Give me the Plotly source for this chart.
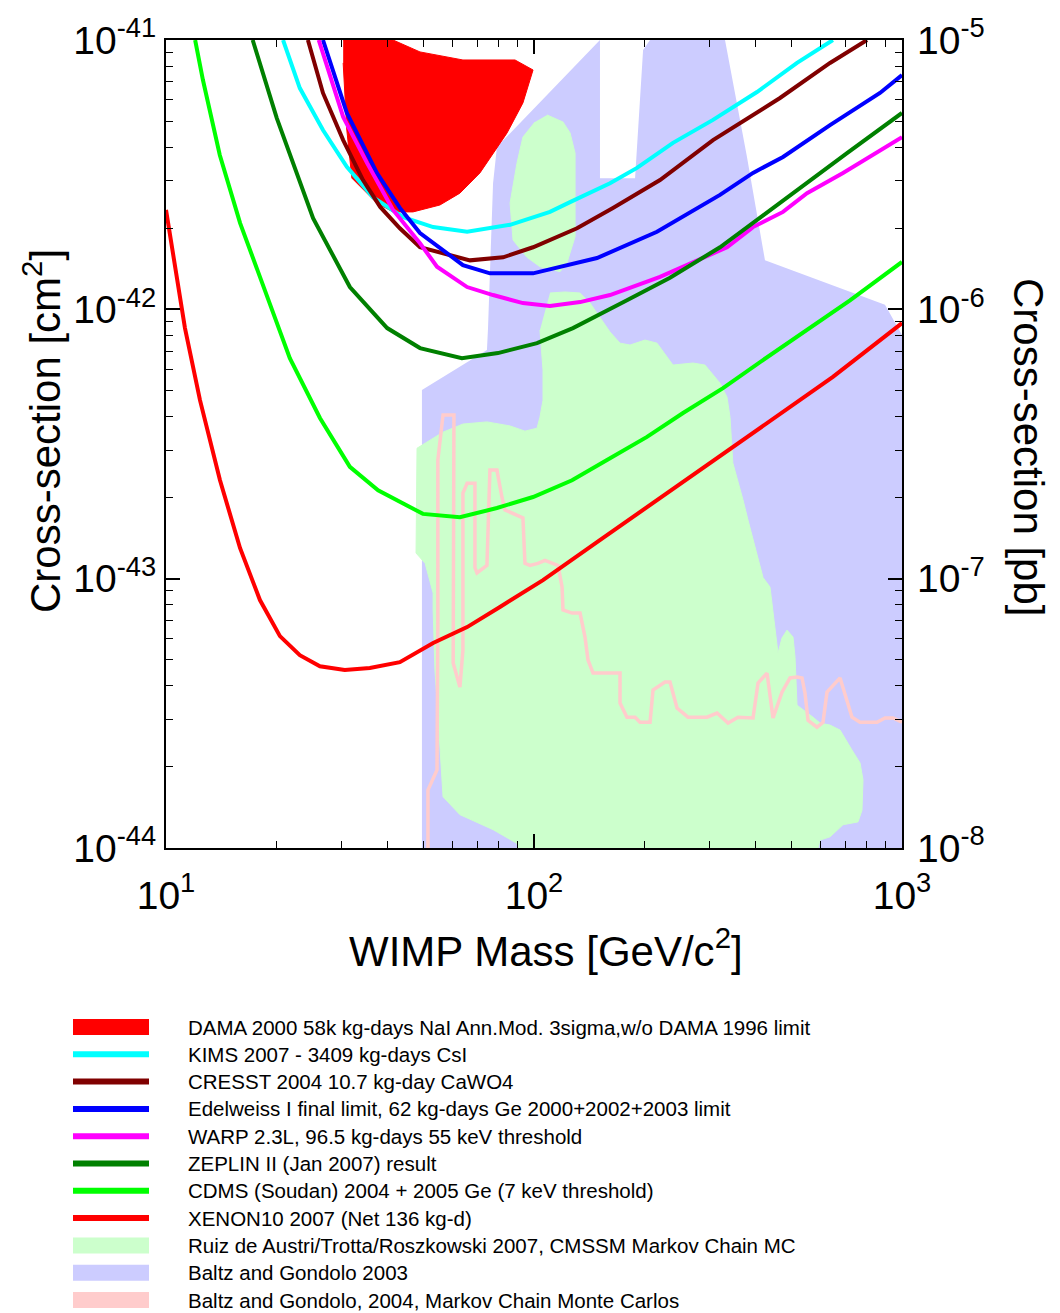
import plotly.graph_objects as go

# ---------------- data (WIMP mass in GeV/c^2, cross-section in cm^2) ----------------
xenon_mass = [10, 11.26, 12.37, 14.02, 15.89, 18.0, 20.4, 23.1, 26.2, 30.6, 35.8, 43.2, 53.2, 65.8,
              80.8, 105.8, 151, 347, 649, 1000]
xenon_sigma = [2.34e-42, 8.52e-43, 4.60e-43, 2.32e-43, 1.30e-43, 8.33e-44, 6.12e-44, 5.20e-44, 4.73e-44,
               4.58e-44, 4.66e-44, 4.90e-44, 5.77e-44, 6.61e-44, 7.85e-44, 9.88e-44, 1.39e-43, 3.08e-43,
               5.61e-43, 8.89e-43]

cdms_mass = [12.0, 12.6, 14.0, 15.9, 18.0, 20.0, 21.7, 26.2, 31.6, 37.7, 44.6, 49.9, 62.9, 79.3, 99.4,
             126.9, 157.9, 202.8, 254.1, 326.3, 419.1, 528.3, 722.2, 1000]
cdms_sigma = [1e-41, 7.10e-42, 3.74e-42, 2.09e-42, 1.32e-42, 8.89e-43, 6.59e-43, 3.95e-43, 2.60e-43,
              2.13e-43, 1.88e-43, 1.74e-43, 1.69e-43, 1.83e-43, 2.01e-43, 2.32e-43, 2.76e-43, 3.36e-43,
              4.12e-43, 5.10e-43, 6.48e-43, 8.03e-43, 1.08e-42, 1.50e-42]

zeplin_mass = [17.2, 20.0, 25.1, 31.6, 39.9, 49.0, 63.7, 79.8, 101.9, 127.6, 178.9, 234.2, 320.2, 419.1,
               518.5, 708.9, 1000]
zeplin_sigma = [1e-41, 5.13e-42, 2.18e-42, 1.21e-42, 8.52e-43, 7.18e-43, 6.59e-43, 6.88e-43, 7.49e-43,
                8.52e-43, 1.08e-42, 1.31e-42, 1.70e-42, 2.24e-42, 2.77e-42, 3.80e-42, 5.36e-42]

kims_mass = [20.8, 23.1, 26.7, 31.0, 36.5, 44.1, 53.2, 65.8, 86.1, 110.5, 125.3, 160.9, 190.5, 238.6,
             306.5, 403.6, 518.5, 649]
kims_sigma = [1e-41, 6.63e-42, 4.63e-42, 3.38e-42, 2.61e-42, 2.20e-42, 2.02e-42, 1.94e-42, 2.06e-42,
              2.30e-42, 2.50e-42, 2.94e-42, 3.35e-42, 4.15e-42, 5.05e-42, 6.41e-42, 8.22e-42, 1e-41]

cresst_mass = [24.3, 26.7, 30.3, 34.3, 38.2, 43.2, 49.0, 67.0, 82.4, 99.4, 130.9, 163.9, 220.0, 306.5,
               466.1, 637.4, 803.4]
cresst_sigma = [1e-41, 6.36e-42, 4.25e-42, 3.02e-42, 2.40e-42, 2.00e-42, 1.70e-42, 1.52e-42, 1.56e-42,
                1.70e-42, 2.00e-42, 2.38e-42, 3.02e-42, 4.25e-42, 6.09e-42, 8.22e-42, 1e-41]

edelweiss_mass = [26.7, 31.0, 37.4, 43.2, 49.0, 64.1, 75.9, 99.4, 148.3, 215.9, 320.2, 393.7, 475.0,
                  637.4, 871.3, 1000]
edelweiss_sigma = [1e-41, 5.36e-42, 3.21e-42, 2.38e-42, 1.92e-42, 1.46e-42, 1.36e-42, 1.36e-42, 1.55e-42,
                   1.94e-42, 2.66e-42, 3.21e-42, 3.68e-42, 4.83e-42, 6.36e-42, 7.41e-42]

warp_mass = [26.0, 30.3, 35.2, 41.4, 49.0, 54.5, 65.8, 77.4, 93.3, 110.5, 133.4, 160.9, 220.0, 334.6,
             393.7, 475.0, 552.0, 691.4, 1000]
warp_sigma = [1e-41, 5.18e-42, 3.49e-42, 2.34e-42, 1.76e-42, 1.44e-42, 1.21e-42, 1.13e-42, 1.055e-42,
              1.03e-42, 1.064e-42, 1.13e-42, 1.32e-42, 1.70e-42, 2.02e-42, 2.30e-42, 2.70e-42, 3.21e-42,
              4.36e-42]

dama_mass = [30.3, 41.4, 49.0, 64.1, 88.8, 99.4, 93.3, 84.5, 71.3, 62.9, 55.5, 46.9, 41.4, 37.4, 32.0,
             31.0, 30.3]
dama_sigma = [1e-41, 1e-41, 9.03e-42, 8.43e-42, 8.43e-42, 7.74e-42, 5.84e-42, 4.52e-42, 3.21e-42,
              2.70e-42, 2.44e-42, 2.30e-42, 2.30e-42, 2.48e-42, 3.07e-42, 4.63e-42, 8.22e-42]

baltz03_mass = [49.6, 49.6, 74.5, 75.0, 77.4, 79.3, 151.1, 151.1, 188.2, 197.9, 206.7, 330.4, 379.1,
                424.3, 899, 969, 1000, 1000]
baltz03_sigma = [1e-44, 5.02e-43, 7.06e-43, 8.52e-43, 2.94e-42, 4.01e-42, 1e-41, 3.07e-42, 3.07e-42,
                 9.18e-42, 1e-41, 1e-41, 3.68e-42, 1.52e-42, 1.04e-42, 8.74e-43, 8.03e-43, 1e-44]

ruiz_upper_mass = [108.5, 119.9, 125.3, 129.3, 129.3, 122.9, 117.7, 103.8, 95.7, 87.7, 86.1, 89.9, 93.3,
                   100.6]
ruiz_upper_sigma = [5.27e-42, 4.96e-42, 4.52e-42, 3.80e-42, 1.86e-42, 1.49e-42, 1.38e-42, 1.44e-42,
                    1.56e-42, 1.81e-42, 2.48e-42, 3.49e-42, 4.36e-42, 4.96e-42]

ruiz_lower_mass = [110.5, 121.4, 133.4, 142.0, 160.9, 171.3, 182.4, 200.3, 215.9, 238.6, 270.4, 291.5,
                   320.2, 334.6, 340.9, 347.0, 369.8, 381.5, 419.1, 437.8, 460.3, 471.9, 487.1, 505.7,
                   512.1, 518.5, 573.1, 598.6, 637.4, 678.7, 731.3, 769.0, 783.4, 778.5, 759.2, 691.4,
                   637.4, 598.6, 591.1, 90.5, 89.9, 77.4, 62.9, 56.6, 54.8, 53.8, 53.2, 53.2, 50.6, 47.8,
                   48.1, 56.6, 64.1, 74.5, 86.1, 94.5, 101.9, 103.8, 105.8, 105.8, 103.8]
ruiz_lower_sigma = [1.15e-42, 1.16e-42, 1.15e-42, 1.055e-42, 8.24e-43, 7.49e-43, 7.37e-43, 7.69e-43,
                    7.49e-43, 6.21e-43, 6.32e-43, 6.21e-43, 5.32e-43, 4.72e-43, 3.98e-43, 2.69e-43,
                    1.96e-43, 1.65e-43, 1.01e-43, 9.31e-44, 5.29e-44, 6.02e-44, 6.44e-44, 6.07e-44,
                    5.11e-44, 3.39e-44, 3.06e-44, 2.91e-44, 2.86e-44, 2.74e-44, 2.31e-44, 2.07e-44,
                    1.79e-44, 1.38e-44, 1.25e-44, 1.22e-44, 1.10e-44, 1.07e-44, 1e-44, 1e-44, 1.04e-44,
                    1.17e-44, 1.33e-44, 1.55e-44, 3.17e-44, 4.58e-44, 7.65e-44, 8.84e-44, 1.14e-43,
                    1.245e-43, 3.05e-43, 3.50e-43, 3.75e-43, 3.82e-43, 3.69e-43, 3.53e-43, 3.62e-43,
                    3.98e-43, 4.60e-43, 5.95e-43, 8.38e-43]

baltz04_mass = [51.5, 51.5, 54.5, 54.8, 54.8, 56.6, 60.6, 60.3, 62.9, 64.1, 64.1, 65.8, 69.1, 69.1, 70.0,
                74.5, 75.9, 79.3, 81.8, 83.4, 93.3, 94.5, 97.5, 102.5, 107.1, 116.2, 119.2, 119.9, 126.9,
                133.4, 137.6, 140.2, 144.7, 171.3, 171.3, 178.9, 188.2, 194.1, 206.7, 210.6, 227.0, 234.2,
                244.7, 262.1, 295.2, 314.3, 336.7, 358.4, 393.7, 406.2, 429.8, 446.2, 471.9, 496.3, 518.5,
                535.0, 545.0, 555.5, 587.5, 610.0, 625.5, 678.7, 731.3, 769.0, 855.2, 899.0, 945.2, 1000]
baltz04_sigma = [1e-44, 1.64e-44, 1.95e-44, 7.02e-44, 2.76e-43, 4.05e-43, 4.05e-43, 4.86e-44, 3.96e-44,
                 5.43e-44, 2.08e-43, 2.26e-43, 2.26e-43, 1.10e-43, 1.05e-43, 1.12e-43, 2.53e-43, 2.53e-43,
                 2.01e-43, 1.80e-43, 1.68e-43, 1.14e-43, 1.12e-43, 1.14e-43, 1.17e-43, 1.12e-43, 9.31e-44,
                 7.65e-44, 7.45e-44, 7.45e-44, 6.07e-44, 4.99e-44, 4.46e-44, 4.46e-44, 3.45e-44, 3.06e-44,
                 3.06e-44, 2.93e-44, 2.93e-44, 3.86e-44, 4.13e-44, 4.13e-44, 3.31e-44, 3.06e-44, 3.06e-44,
                 3.17e-44, 2.91e-44, 3.06e-44, 3.04e-44, 4.10e-44, 4.46e-44, 3.04e-44, 3.79e-44, 4.28e-44,
                 4.31e-44, 4.28e-44, 3.76e-44, 2.98e-44, 2.81e-44, 2.93e-44, 3.79e-44, 4.28e-44, 3.06e-44,
                 2.93e-44, 2.93e-44, 3.04e-44, 3.04e-44, 2.93e-44]

x_tick_vals = [10, 100, 1000]
x_tick_text = ["10<sup>1</sup>", "10<sup>2</sup>", "10<sup>3</sup>"]
y_tick_vals = [1e-44, 1e-43, 1e-42, 1e-41]
y_tick_text = ["10<sup>-44</sup>", "10<sup>-43</sup>", "10<sup>-42</sup>", "10<sup>-41</sup>"]
y2_tick_vals = [1e-8, 1e-7, 1e-6, 1e-5]
y2_tick_text = ["10<sup>-8</sup>", "10<sup>-7</sup>", "10<sup>-6</sup>", "10<sup>-5</sup>"]

legend_labels = [
    "DAMA 2000 58k kg-days NaI Ann.Mod. 3sigma,w/o DAMA 1996 limit",
    "KIMS 2007 - 3409 kg-days CsI",
    "CRESST 2004 10.7 kg-day CaWO4",
    "Edelweiss I final limit, 62 kg-days Ge 2000+2002+2003 limit",
    "WARP 2.3L, 96.5 kg-days 55 keV threshold",
    "ZEPLIN II (Jan 2007) result",
    "CDMS (Soudan) 2004 + 2005 Ge (7 keV threshold)",
    "XENON10 2007 (Net 136 kg-d)",
    "Ruiz de Austri/Trotta/Roszkowski 2007, CMSSM Markov Chain MC",
    "Baltz and Gondolo 2003",
    "Baltz and Gondolo, 2004, Markov Chain Monte Carlos",
]
legend_colors = ["#ff0000", "#00ffff", "#800000", "#0000ff", "#ff00ff", "#008000", "#00ff00",
                 "#ff0000", "#ccffcc", "#ccccff", "#ffcccc"]
legend_kinds = ["fill", "line", "line", "line", "line", "line", "line", "line", "fill", "fill", "fill"]

# ---------------- figure ----------------
FONT = "Liberation Sans, Arial, Helvetica, sans-serif"
W, H = 1060, 1313
L, R, T, B = 166, 158, 40, 465
PW, PH = W - L - R, H - T - B


def px_x(X):
    return (X - L) / PW


def px_y(Y):
    return (H - B - Y) / PH


fig = go.Figure()

fig.add_trace(go.Scatter(x=baltz03_mass, y=baltz03_sigma, mode="lines", fill="toself",
                         fillcolor="#ccccff", line=dict(width=0, color="#ccccff"), hoverinfo="skip"))
fig.add_trace(go.Scatter(x=ruiz_upper_mass, y=ruiz_upper_sigma, mode="lines", fill="toself",
                         fillcolor="#ccffcc", line=dict(width=1, color="#ccffcc"), hoverinfo="skip"))
fig.add_trace(go.Scatter(x=ruiz_lower_mass, y=ruiz_lower_sigma, mode="lines", fill="toself",
                         fillcolor="#ccffcc", line=dict(width=1, color="#ccffcc"), hoverinfo="skip"))
fig.add_trace(go.Scatter(x=baltz04_mass, y=baltz04_sigma, mode="lines",
                         line=dict(width=3.5, color="#ffcccc"), hoverinfo="skip"))
fig.add_trace(go.Scatter(x=dama_mass, y=dama_sigma, mode="lines", fill="toself",
                         fillcolor="#ff0000", line=dict(width=1, color="#ff0000"), hoverinfo="skip"))

curves = [
    (kims_mass, kims_sigma, "#00ffff"),
    (cresst_mass, cresst_sigma, "#800000"),
    (edelweiss_mass, edelweiss_sigma, "#0000ff"),
    (warp_mass, warp_sigma, "#ff00ff"),
    (zeplin_mass, zeplin_sigma, "#008000"),
    (cdms_mass, cdms_sigma, "#00ff00"),
    (xenon_mass, xenon_sigma, "#ff0000"),
]
for mx, sy, col in curves:
    fig.add_trace(go.Scatter(x=mx, y=sy, mode="lines", line=dict(width=4, color=col),
                             hoverinfo="skip"))

# empty trace so that the secondary (pb) axis is drawn
fig.add_trace(go.Scatter(x=[], y=[], yaxis="y2", mode="lines", hoverinfo="skip"))

fig.update_layout(
    width=W, height=H, margin=dict(l=L, r=R, t=T, b=B, pad=0),
    paper_bgcolor="white", plot_bgcolor="white", showlegend=False,
    font=dict(family=FONT, color="black"),
    xaxis=dict(type="log", range=[1, 3], tickmode="array", tickvals=x_tick_vals, ticktext=x_tick_text,
               ticks="inside", ticklen=14, tickwidth=1.5, tickcolor="black",
               showline=True, linecolor="black", linewidth=2, mirror="ticks",
               showgrid=False, zeroline=False, tickfont=dict(size=39, family=FONT),
               ticklabelstandoff=12,
               minor=dict(ticks="inside", ticklen=7, tickwidth=1, tickcolor="black", showgrid=False,
                          tickmode="array",
                          tickvals=[20, 30, 40, 50, 60, 70, 80, 90, 200, 300, 400, 500, 600, 700, 800, 900])),
    yaxis=dict(type="log", range=[-44, -41], tickmode="array", tickvals=y_tick_vals, ticktext=y_tick_text,
               ticks="inside", ticklen=14, tickwidth=1.5, tickcolor="black",
               showline=True, linecolor="black", linewidth=2, mirror=True,
               showgrid=False, zeroline=False, tickfont=dict(size=39, family=FONT),
               ticklabelstandoff=0,
               minor=dict(ticks="inside", ticklen=7, tickwidth=1, tickcolor="black", showgrid=False,
                          tickmode="array",
                          tickvals=[k * 10.0 ** e for e in (-44, -43, -42) for k in range(2, 10)])),
    yaxis2=dict(type="log", range=[-8, -5], overlaying="y", side="right", anchor="x",
                tickmode="array", tickvals=y2_tick_vals, ticktext=y2_tick_text,
                ticks="inside", ticklen=14, tickwidth=1.5, tickcolor="black",
                showline=False, showgrid=False, zeroline=False, tickfont=dict(size=39, family=FONT),
                ticklabelstandoff=14,
                minor=dict(ticks="inside", ticklen=7, tickwidth=1, tickcolor="black", showgrid=False,
                           tickmode="array",
                           tickvals=[k * 10.0 ** e for e in (-8, -7, -6) for k in range(2, 10)])),
)

annotations = [
    dict(text="WIMP Mass [GeV/c<sup>2</sup>]", x=px_x(546), y=px_y(948), xref="paper", yref="paper",
         xanchor="center", yanchor="middle", showarrow=False, font=dict(size=42, family=FONT)),
    dict(text="Cross-section [cm<sup>2</sup>]", x=px_x(42), y=px_y(431), xref="paper", yref="paper",
         xanchor="center", yanchor="middle", textangle=-90, showarrow=False,
         font=dict(size=42, family=FONT)),
    dict(text="Cross-section [pb]", x=px_x(1029), y=px_y(447), xref="paper", yref="paper",
         xanchor="center", yanchor="middle", textangle=90, showarrow=False,
         font=dict(size=42, family=FONT)),
]

shapes = []
row0, row_step = 1027.0, 27.3
for i, (lab, col, kind) in enumerate(zip(legend_labels, legend_colors, legend_kinds)):
    yc = row0 + i * row_step
    if kind == "fill":
        shapes.append(dict(type="rect", xref="paper", yref="paper", x0=px_x(73), x1=px_x(149),
                           y0=px_y(yc - 8), y1=px_y(yc + 8), fillcolor=col, line=dict(width=0)))
    else:
        shapes.append(dict(type="line", xref="paper", yref="paper", x0=px_x(73), x1=px_x(149),
                           y0=px_y(yc), y1=px_y(yc), line=dict(color=col, width=6)))
    annotations.append(dict(text=lab, x=px_x(186), y=px_y(yc), xref="paper", yref="paper",
                            xanchor="left", yanchor="middle", showarrow=False,
                            font=dict(size=20.5, family=FONT)))

fig.update_layout(annotations=annotations, shapes=shapes)
fig.write_html("out.html")
